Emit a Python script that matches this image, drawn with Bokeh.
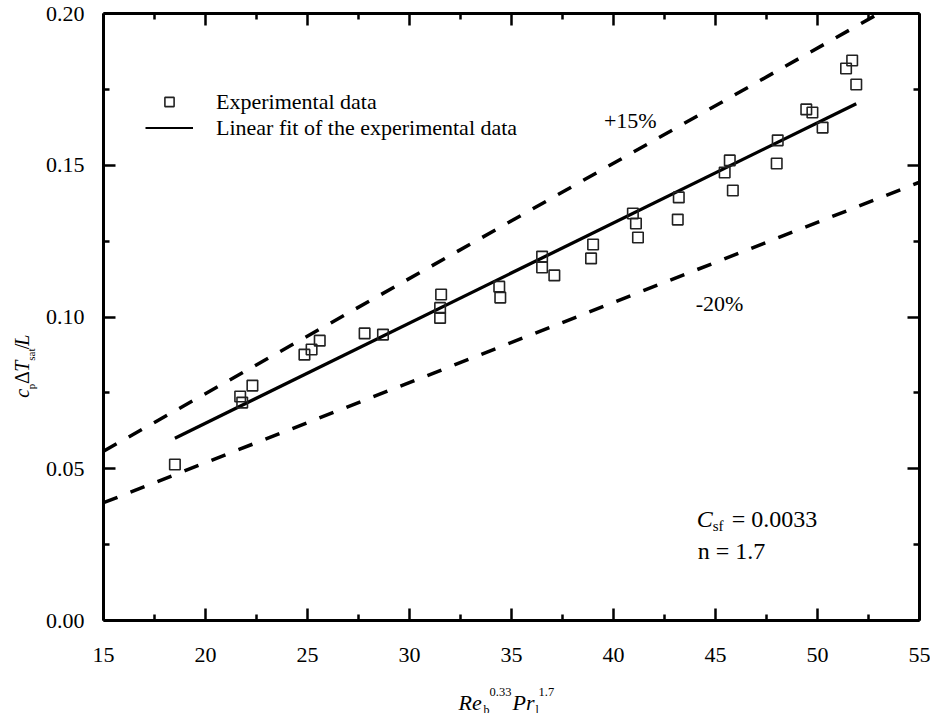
import numpy as np
from bokeh.plotting import figure
from bokeh.layouts import row, column
from bokeh.models import (Range1d, LinearAxis, FixedTicker, PrintfTickFormatter,
                          Label, Legend, LegendItem)
from bokeh.embed import file_html
from bokeh.resources import INLINE

# ---------------- data ----------------
x_data = [18.5, 21.7, 21.8, 22.3, 24.85, 25.2, 25.6, 27.8, 28.7, 31.5, 31.5, 31.55,
          34.4, 34.45, 36.5, 36.5, 37.1, 38.9, 39.0, 40.95, 41.1, 41.2, 43.15, 43.2,
          45.45, 45.7, 45.85, 48.0, 48.05, 49.45, 49.75, 50.25, 51.4, 51.7, 51.9]
y_data = [0.0514, 0.0738, 0.0718, 0.0774, 0.0876, 0.0893, 0.0922, 0.0946, 0.0942,
          0.1030, 0.0997, 0.1074, 0.1100, 0.1064, 0.1199, 0.1163, 0.1137, 0.1193,
          0.1239, 0.1341, 0.1308, 0.1262, 0.1321, 0.1394, 0.1476, 0.1516, 0.1417,
          0.1506, 0.1582, 0.1684, 0.1674, 0.1624, 0.1819, 0.1845, 0.1766]

fit_slope = 0.0033
fit_intercept = -0.0010
band_upper = 1.15   # +15%
band_lower = 0.80   # -20%
band_x = [15, 55]

x_ticks = [15, 20, 25, 30, 35, 40, 45, 50, 55]
x_minor = [17.5, 22.5, 27.5, 32.5, 37.5, 42.5, 47.5, 52.5]
y_ticks = [0.0, 0.05, 0.10, 0.15, 0.20]
y_minor = [0.025, 0.075, 0.125, 0.175]

FONT = "Liberation Serif"

fit_x = np.array([min(x_data), max(x_data)])
fit_y = fit_slope * fit_x + fit_intercept
bx = np.array(band_x, dtype=float)
base = fit_slope * bx + fit_intercept

# ---------------- page geometry (pixels) ----------------
W, H = 930, 713
YLAB_W = 42          # strip at the left for the y title
XLAB_H = 36          # strip at the bottom for the x title
FL, FR, FT, FB = 102, 919, 13, 620   # plot frame edges on the page
PH = H - XLAB_H

# ---------------- main figure ----------------
p = figure(width=W - YLAB_W, height=PH,
           x_range=Range1d(15, 55), y_range=Range1d(0, 0.2),
           output_backend="svg", toolbar_location=None,
           min_border_left=FL - YLAB_W, min_border_right=W - FR, min_border_top=FT,
           min_border_bottom=PH - FB)
p.grid.visible = False
p.outline_line_color = None
p.background_fill_color = "white"
p.border_fill_color = "white"

xt = FixedTicker(ticks=x_ticks, minor_ticks=x_minor)
yt = FixedTicker(ticks=y_ticks, minor_ticks=y_minor)


def style(ax, ticker, show_labels):
    ax.ticker = ticker
    ax.axis_line_width = 3
    ax.axis_line_color = "black"
    ax.major_tick_in = 12
    ax.major_tick_out = 0
    ax.minor_tick_in = 6
    ax.minor_tick_out = 0
    ax.major_tick_line_width = 2.5
    ax.minor_tick_line_width = 2.5
    ax.major_tick_line_color = "black"
    ax.minor_tick_line_color = "black"
    if show_labels:
        ax.major_label_text_font = FONT
        ax.major_label_text_font_size = "22px"
        ax.major_label_text_color = "black"
    else:
        ax.major_label_text_font_size = "0px"
        ax.major_label_standoff = 0
        ax.major_label_overrides = {t: "" for t in ticker.ticks}


style(p.xaxis[0], xt, True)
p.xaxis[0].major_label_standoff = 27
style(p.yaxis[0], yt, True)
p.yaxis[0].major_label_standoff = 19
p.yaxis[0].formatter = PrintfTickFormatter(format="%.2f")

top = LinearAxis()
style(top, FixedTicker(ticks=x_ticks, minor_ticks=x_minor), False)
p.add_layout(top, "above")
right = LinearAxis()
style(right, FixedTicker(ticks=y_ticks, minor_ticks=y_minor), False)
p.add_layout(right, "right")

# ---------------- glyphs ----------------
p.line(bx, band_upper * base, line_color="black", line_width=3.5, line_dash="15 14")
p.line(bx, band_lower * base, line_color="black", line_width=3.5, line_dash="15 14")
p.line(fit_x, fit_y, line_color="black", line_width=3.3)
pts = p.scatter(x_data, y_data, marker="square", size=10.5, fill_color=None,
                line_color="#222222", line_width=1.6)
leg_line = p.line(fit_x, fit_y, line_color="black", line_width=1.8, visible=False)

legend = Legend(items=[LegendItem(label="Experimental data", renderers=[pts]),
                       LegendItem(label="Linear fit of the experimental data",
                                  renderers=[leg_line])],
                location=(42, 479.5), padding=0, margin=0, spacing=0,
                glyph_width=48, glyph_height=23, label_height=23, label_standoff=23,
                border_line_color=None, background_fill_alpha=0,
                label_text_font=FONT, label_text_font_size="22px",
                label_text_color="black")
p.add_layout(legend)


def dx(px):
    return 15 + (px - FL) * 40.0 / (FR - FL)


def dy(py):
    return (FB - py) * 0.2 / (FB - FT)


def add_text(fig, txt, x, y, size, style_="normal", angle=0.0,
             align="left", baseline="alphabetic"):
    fig.add_layout(Label(x=x, y=y, text=txt, text_font=FONT,
                         text_font_size=size, text_font_style=style_,
                         text_color="black", text_align=align,
                         text_baseline=baseline, angle=angle))


# band annotations
add_text(p, "+15%", dx(603), dy(120), "22px")
add_text(p, "-20%", dx(695), dy(303), "22px")

# correlation constants
add_text(p, "C", dx(696), dy(518), "24px", "italic")
add_text(p, "sf", dx(712), dy(525), "15px")
add_text(p, "= 0.0033", dx(731), dy(518), "24px")
add_text(p, "n = 1.7", dx(697), dy(550), "24px")


def strip(w, h):
    f = figure(width=w, height=h, x_range=Range1d(0, w), y_range=Range1d(0, h),
               x_axis_type=None, y_axis_type=None, output_backend="svg",
               toolbar_location=None, min_border=0)
    f.outline_line_color = None
    f.grid.visible = False
    f.background_fill_color = "white"
    f.border_fill_color = "white"
    return f


# ---------------- y title strip: c_p ΔT_sat / L (pieces placed by centre) ----------------
ylab = strip(YLAB_W, PH)
r = np.pi / 2
Y_CORR = XLAB_H   # empirical vertical correction observed for this strip


def ypiece(txt, cx, cy, size, style_="normal"):
    add_text(ylab, txt, cx, PH - Y_CORR - cy, size, style_, r, "center", "middle")


ypiece("c", 21.5, 387.5, "20px", "italic")
ypiece("p", 30.5, 380.0, "11px")
ypiece("\u0394", 21.5, 370.0, "20px")
ypiece("T", 21.5, 357.5, "20px", "italic")
ypiece("sat", 30.5, 344.5, "11px")
ypiece("/", 21.5, 335.5, "20px")
ypiece("L", 21.5, 328.5, "20px", "italic")

# ---------------- x title strip: Re_b^0.33 Pr_l^1.7 ----------------
xlab = strip(W, XLAB_H)
add_text(xlab, "Re", 458, H - 702, "22px", "italic")
add_text(xlab, "b", 483, H - 709, "12px")
add_text(xlab, "0.33", 489, H - 691, "12.5px")
add_text(xlab, "Pr", 512, H - 702, "22px", "italic")
add_text(xlab, "l", 535, H - 709, "12px")
add_text(xlab, "1.7", 538, H - 691, "12.5px")

layout = column(row(ylab, p, spacing=0), xlab, spacing=0)

open("out.html", "w").write(file_html(layout, INLINE))
